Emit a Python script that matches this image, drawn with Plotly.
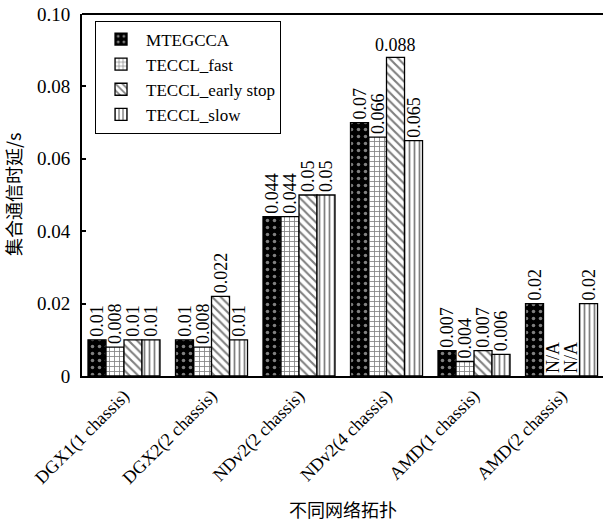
import plotly.graph_objects as go

categories = ["DGX1(1 chassis)", "DGX2(2 chassis)", "NDv2(2 chassis)",
              "NDv2(4 chassis)", "AMD(1 chassis)", "AMD(2 chassis)"]
mtegcca = [0.01, 0.01, 0.044, 0.07, 0.007, 0.02]
teccl_fast = [0.008, 0.008, 0.044, 0.066, 0.004, None]
teccl_early = [0.01, 0.022, 0.05, 0.088, 0.007, None]
teccl_slow = [0.01, 0.01, 0.05, 0.065, 0.006, 0.02]
y_ticks = [0, 0.02, 0.04, 0.06, 0.08, 0.10]
y_ticklabels = ["0", "0.02", "0.04", "0.06", "0.08", "0.10"]

SERIF = "Liberation Serif"
CJK = "Noto Sans CJK SC"

series = [
    ("MTEGCCA", mtegcca, dict(shape=".", fgcolor="white", bgcolor="black", size=7, solidity=0.2)),
    ("TECCL_fast", teccl_fast, dict(shape="+", fgcolor="black", bgcolor="white", size=5, solidity=0.3)),
    ("TECCL_early stop", teccl_early, dict(shape="\\", fgcolor="black", bgcolor="white", size=6, solidity=0.35)),
    ("TECCL_slow", teccl_slow, dict(shape="|", fgcolor="black", bgcolor="white", size=5, solidity=0.35)),
]
BARGAP = 0.177

def fmt(v):
    return "N/A" if v is None else ("%g" % v)

allmax = max(x for s in series for x in s[1] if x is not None)

fig = go.Figure()
annotations = []
xs = list(range(len(categories)))
for si, (name, vals, pat) in enumerate(series):
    yv = [0 if v is None else v for v in vals]
    texts = ["" if v == allmax else fmt(v) for v in vals]
    fig.add_trace(go.Bar(
        x=xs, y=yv, name=name, text=texts, textposition="outside",
        textangle=-90, cliponaxis=False, constraintext="none",
        textfont=dict(family=SERIF, size=18, color="black"),
        marker=dict(color=pat["bgcolor"], pattern=pat,
                    line=dict(color="black", width=1.3)),
    ))
    # the tallest value is printed horizontally above its bar
    for i, v in enumerate(vals):
        if v == allmax:
            offset = (si - 1.5) * (1 - BARGAP) / 4
            annotations.append(dict(x=i + offset, y=v, text=fmt(v), showarrow=False,
                                    yanchor="bottom", xref="x", yref="y", yshift=0,
                                    font=dict(family=SERIF, size=18, color="black")))

fig.update_layout(
    width=603, height=523,
    margin=dict(l=82, r=0, t=14, b=147, autoexpand=False),
    paper_bgcolor="white", plot_bgcolor="white",
    barmode="group", bargap=BARGAP, bargroupgap=0,
    font=dict(family=SERIF, size=18, color="black"),
    showlegend=True,
    legend=dict(x=0.025, y=0.982, xanchor="left", yanchor="top",
                bordercolor="black", borderwidth=1, bgcolor="white",
                font=dict(family=SERIF, size=17, color="black"),
                tracegroupgap=0, itemwidth=40),
    annotations=annotations + [
        dict(x=0.5, y=-0.368, xref="paper", yref="paper", text="不同网络拓扑",
             yanchor="middle", xanchor="center",
             showarrow=False, font=dict(family=CJK, size=18, color="black")),
        dict(x=-0.1324, y=0.5, xref="paper", yref="paper", text="集合通信时延/s",
             textangle=-90, yanchor="middle", xanchor="center",
             showarrow=False, font=dict(family=CJK, size=18, color="black")),
    ],
    shapes=[dict(type="line", xref="paper", yref="paper", x0=0, x1=1, y0=1, y1=1,
                 line=dict(color="black", width=2))],
)
fig.update_xaxes(
    tickvals=xs, ticktext=categories, tickangle=-45, range=[-0.48, 5.474],
    showline=True, linecolor="black", linewidth=2, ticks="", showgrid=False,
    tickfont=dict(family=SERIF, size=18, color="black"), zeroline=False,
)
fig.update_yaxes(
    range=[0, 0.10], tickvals=y_ticks, ticktext=y_ticklabels,
    showline=True, linecolor="black", linewidth=2, ticks="inside", ticklen=4,
    tickcolor="black", tickwidth=1.5, showgrid=False, zeroline=False,
    ticklabelstandoff=6, ticklabeloverflow="allow",
    tickfont=dict(family=SERIF, size=19, color="black"),
)
fig.write_html("out.html", config={"displayModeBar": False},
               post_script="document.body.style.margin='0';")
